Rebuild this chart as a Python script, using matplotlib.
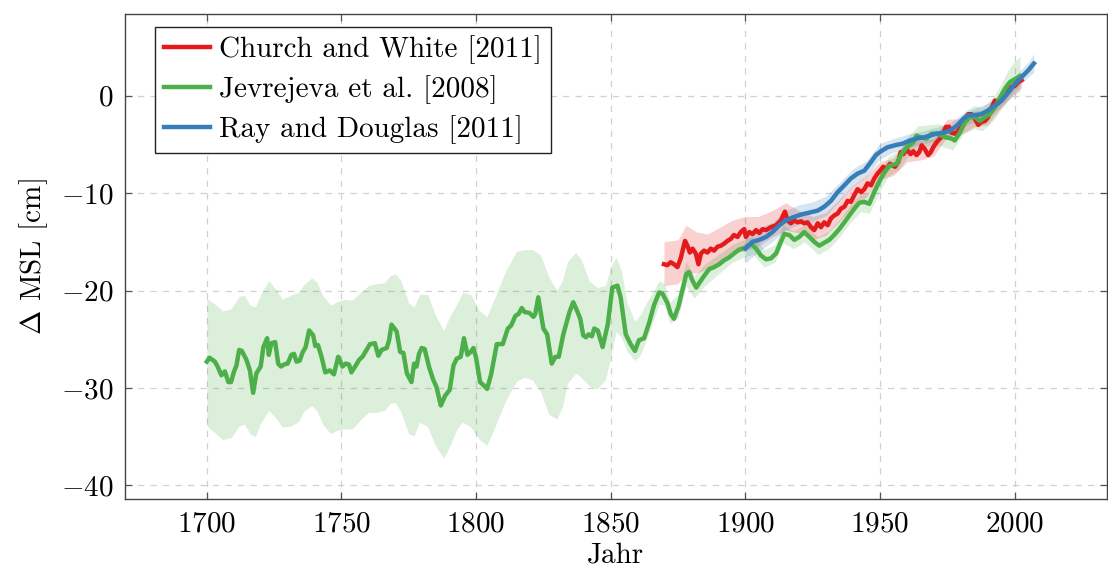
import matplotlib
matplotlib.use("Agg")
import matplotlib.pyplot as plt
import numpy as np

plt.rcParams["font.family"] = "serif"
plt.rcParams["font.serif"] = ["cmr10"]
plt.rcParams["mathtext.fontset"] = "cm"
plt.rcParams["axes.formatter.use_mathtext"] = True
plt.rcParams["axes.unicode_minus"] = True

# Jevrejeva et al. (2008)
jev_year = [1700, 1701, 1703, 1704, 1705.4, 1706.7, 1708, 1709, 1710, 1711, 1712, 1713, 1714.7, 1716,
            1717.2, 1718.4, 1720, 1721, 1722.4, 1723, 1724, 1725.4, 1726.5, 1727.5, 1728.6, 1730,
            1731.4, 1732.4, 1733.3, 1734.5, 1735.5, 1736.7, 1738, 1739.5, 1740.3, 1741.3, 1742.6, 1744,
            1745.7, 1747.2, 1748.8, 1750.4, 1751.6, 1752.8, 1753.7, 1755.3, 1756.6, 1757.8, 1759.3,
            1760.6, 1762.4, 1763.7, 1764.9, 1766.8, 1767.7, 1768.6, 1770.5, 1771.8, 1773, 1774.3, 1776,
            1777, 1777.9, 1778.8, 1779.8, 1780.9, 1782.5, 1784, 1785.3, 1786.9, 1788.5, 1790.2, 1791.6,
            1792.8, 1794.3, 1795.5, 1796.8, 1798, 1799, 1800, 1801.5, 1803.1, 1804.1, 1805.6, 1807.7,
            1809.9, 1811.8, 1813, 1814.6, 1815.8, 1817, 1818, 1819.8, 1821.3, 1822, 1823.1, 1824.1, 1825,
            1826.4, 1828.1, 1829.5, 1830.7, 1832.4, 1834.7, 1836.1, 1837.7, 1838.7, 1839.8, 1840.8,
            1841.8, 1843, 1843.9, 1845.2, 1847, 1848.9, 1850.6, 1852.5, 1853.7, 1855.6, 1857.4, 1859,
            1860.5, 1862.4, 1864.3, 1866.1, 1868, 1869.2, 1871.1, 1872.3, 1873.5, 1875.2, 1876.6, 1878.1,
            1879.1, 1880.4, 1881.8, 1883.2, 1884.7, 1886.6, 1888.4, 1890.3, 1892.1, 1894, 1895.8, 1897.7,
            1900, 1902.1, 1904, 1905.8, 1907.7, 1909.5, 1911.4, 1913.2, 1914.5, 1916.3, 1918.2, 1920,
            1921.9, 1923.8, 1925.6, 1927.5, 1929.3, 1931.2, 1933, 1934.9, 1936.8, 1938.6, 1940.5, 1942.3,
            1944.2, 1946, 1947.9, 1949.8, 1951.6, 1953.5, 1956.2, 1958, 1959.9, 1962.4, 1963.6, 1965.5,
            1967.3, 1969.2, 1971, 1972.9, 1974.8, 1976.6, 1977.8, 1979.7, 1981.6, 1983.4, 1985.3, 1987.1,
            1989, 1990.8, 1992.7, 1994.6, 1996.4, 1998.3, 2000.1, 2002]
jev_msl = [-27.3, -26.9, -27.3, -27.8, -28.7, -28.3, -29.4, -29.4, -28.4, -27.7, -26.1, -26.2, -27.1, -28.2,
           -30.5, -28.5, -27.8, -25.8, -24.9, -26.6, -25.4, -25.3, -27.5, -27.8, -27.6, -27.5,
           -26.6, -26.5, -27.3, -27.2, -26.4, -25.8, -24.1, -24.6, -25.7, -25.6, -26.8, -28.4,
           -28.2, -28.6, -26.8, -27.8, -27.5, -27.6, -28.4, -27.7, -27.1, -26.8, -26.1,
           -25.5, -25.4, -26.7, -26.1, -25.9, -25.1, -23.5, -24.2, -26.3, -26.4, -28.5, -29.4,
           -27.5, -27.8, -26.5, -25.9, -26.0, -27.8, -29.1, -29.9, -31.8, -30.8, -30.2, -27.7,
           -27.0, -26.8, -24.9, -26.6, -26.3, -25.9, -26.9, -29.4, -29.8, -30.1, -28.6, -25.5,
           -25.5, -23.9, -23.6, -22.6, -22.4, -21.8, -22.2, -22.3, -22.7, -22.4, -20.7, -22.4, -23.9,
           -24.5, -27.5, -26.8, -26.8, -24.5, -22.2, -21.2, -22.2, -22.9, -24.6, -24.8,
           -24.5, -24.7, -23.9, -24.1, -25.8, -23.5, -19.7, -19.5, -20.7, -24.5, -25.5, -26.2,
           -25.1, -24.9, -23.3, -21.5, -20.2, -20.3, -21.3, -22.4, -22.9, -21.6, -20.0, -18.3,
           -18.1, -19.0, -19.7, -19.1, -18.5, -17.8, -17.6, -17.3, -16.9, -16.6, -16.2, -15.8,
           -15.6, -15.2, -15.7, -16.4, -16.8, -16.7, -16.2, -15.0, -14.2, -14.3, -14.8, -14.5,
           -14.0, -14.5, -15.0, -15.4, -15.1, -14.8, -14.3, -13.7, -13.0, -12.3, -11.6, -11.0,
           -10.9, -11.1, -9.9, -8.8, -7.9, -7.2, -7.0, -6.0, -5.3, -4.8, -4.1, -4.3,
           -4.4, -3.9, -3.9, -4.1, -4.3, -4.4, -4.6, -3.8, -2.7, -2.2, -2.2, -2.6,
           -2.2, -1.9, -1.2, -0.2, 0.7, 1.4, 1.7, 2.0]
jev_band_year = [1700, 1703, 1706, 1709, 1712, 1714, 1716, 1718, 1720, 1723, 1726, 1728, 1731, 1734, 1736,
                 1739, 1741, 1743, 1746, 1748, 1751, 1754, 1757, 1760, 1763, 1766, 1768, 1770, 1772,
                 1775, 1777, 1779, 1782, 1785, 1788, 1790, 1793, 1795, 1798, 1801, 1804, 1807, 1811,
                 1815, 1818, 1821, 1824, 1827, 1830, 1832, 1834, 1837, 1839, 1842, 1845, 1848, 1850,
                 1852, 1854, 1856, 1859, 1861, 1863, 1866, 1868, 1870, 1872, 1875, 1878, 1881, 1885,
                 1890, 1895, 1900, 1903, 1907, 1911, 1914, 1918, 1922, 1927, 1931, 1935, 1939, 1943,
                 1946, 1950, 1953, 1957, 1961, 1964, 1968, 1972, 1977, 1981, 1985, 1988, 1992, 1995,
                 1998, 2000, 2002]
jev_lo = [-33.9, -34.6, -35.3, -35.1, -33.9, -33.7, -34.7, -35.0, -33.6, -32.3, -33.2, -34.0, -33.9, -33.5,
          -32.4, -31.8, -32.4, -33.7, -34.7, -34.4, -34.2, -34.2, -33.3, -32.5, -32.5, -32.3, -31.6,
          -31.5, -32.4, -34.7, -34.9, -33.5, -34.0, -36.0, -37.2, -36.1, -34.2, -33.5, -34.0, -35.2,
          -35.9, -34.0, -31.3, -29.3, -28.9, -29.2, -30.4, -32.7, -33.2, -32.0, -29.5, -28.5, -28.9,
          -29.8, -30.1, -29.2, -26.8, -24.2, -24.8, -26.2, -27.2, -26.6, -25.2, -23.0, -21.4, -21.5,
          -23.4, -22.8, -19.5, -20.8, -19.5, -18.3, -17.1, -16.5, -16.3, -17.6, -17.1, -15.1, -15.7,
          -15.0, -16.3, -15.7, -14.5, -13.0, -11.9, -12.1, -9.8, -8.3, -7.6, -6.0, -5.2, -5.2, -5.1,
          -5.6, -3.9, -3.4, -3.6, -2.6, -1.4, -0.4, 0.1, 0.4]
jev_hi = [-20.8, -21.4, -22.1, -21.9, -20.6, -20.5, -21.5, -21.7, -20.4, -19.0, -20.0, -20.9, -20.5, -20.2,
          -19.4, -18.7, -19.2, -20.5, -21.5, -21.2, -20.9, -21.0, -20.2, -19.5, -19.3, -19.2, -18.5,
          -18.3, -18.9, -21.3, -21.7, -20.4, -20.4, -22.6, -24.1, -22.8, -21.3, -20.2, -20.4, -22.0,
          -22.7, -20.7, -18.0, -16.0, -15.8, -15.8, -16.4, -18.6, -20.0, -19.0, -17.0, -16.1, -16.8,
          -19.0, -19.7, -19.5, -17.6, -16.6, -18.0, -21.2, -23.2, -22.5, -21.4, -20.0, -19.0, -19.3,
          -21.2, -20.4, -17.0, -18.5, -17.3, -16.3, -15.3, -14.7, -14.5, -15.8, -15.3, -13.3, -13.9,
          -13.2, -14.5, -13.9, -12.7, -11.2, -10.0, -10.1, -7.8, -6.3, -5.6, -4.0, -3.1, -3.0, -2.9,
          -3.4, -1.7, -1.0, -1.2, -0.2, 1.2, 2.8, 3.5, 4.0]

# Church and White (2011)
cw_year = [1869.8, 1871, 1872.3, 1873.5, 1874.8, 1876, 1877.6, 1878.5, 1879.4, 1880.4, 1881.6, 1882.6,
           1883.5, 1884.7, 1885.9, 1887.2, 1888.4, 1889.7, 1890.9, 1892.1, 1893.4, 1894.6, 1895.8,
           1897.1, 1898.3, 1899.6, 1900.2, 1901.5, 1902.7, 1904, 1905.2, 1906.4, 1907.7, 1909.5,
           1911.4, 1913.2, 1914.7, 1915.7, 1916.9, 1918.2, 1919.4, 1920.7, 1921.9, 1923.1, 1924.4,
           1925.6, 1926.9, 1928.1, 1929.3, 1930.6, 1931.8, 1933, 1934.3, 1935.5, 1936.8, 1938, 1939.2,
           1940.5, 1941.7, 1943, 1944.2, 1945.4, 1946.7, 1947.9, 1949.1, 1950.4, 1951.2, 1952.5,
           1953.7, 1955.6, 1956.8, 1957.7, 1958.7, 1959.9, 1961.4, 1962.4, 1963.6, 1964.6, 1965.5,
           1966.7, 1967.9, 1968.9, 1969.8, 1971, 1972.3, 1973.5, 1974.5, 1975.7, 1976.6, 1977.8,
           1979.1, 1980.3, 1981.6, 1982.8, 1984, 1985.3, 1986.5, 1987.7, 1989, 1990.2, 1991.5,
           1992.7, 1993.9, 1995.2, 1996.4, 1997.6, 1998.9, 2000.1, 2001.4, 2002.6]
cw_msl = [-17.3, -17.4, -17.1, -17.3, -17.6, -16.7, -14.9, -15.4, -16.1, -15.7, -16.2, -17.3,
          -16.2, -15.9, -16.1, -15.7, -15.9, -15.5, -15.4, -15.2, -14.9, -14.7, -14.3,
          -14.5, -14.0, -13.7, -14.5, -14.0, -14.2, -13.8, -14.1, -13.7, -13.8, -13.5,
          -13.3, -12.8, -11.9, -12.8, -13.1, -12.8, -13.0, -12.9, -13.1, -13.0, -13.5,
          -13.8, -13.1, -13.5, -13.0, -13.3, -12.6, -12.3, -12.1, -11.6, -11.4, -10.8, -10.9,
          -10.2, -9.6, -9.9, -9.6, -9.0, -9.2, -8.5, -8.0, -7.6, -7.3, -7.5,
          -7.0, -7.3, -6.8, -5.8, -6.0, -5.5, -6.0, -5.7, -6.1, -5.8, -5.1,
          -5.5, -6.1, -5.8, -5.3, -4.8, -4.4, -3.9, -3.2, -3.2, -3.8, -3.9,
          -3.6, -3.2, -2.4, -1.9, -1.9, -2.4, -3.0, -2.7, -2.6, -2.2, -1.2,
          -0.5, -0.8, -0.3, 0.0, 0.5, 0.9, 1.0, 1.4, 1.6]
cw_band_year = [1869.8, 1875, 1878, 1882, 1886, 1890, 1895, 1900, 1905, 1910, 1915, 1920, 1925, 1930,
                1935, 1940, 1945, 1950, 1955, 1960, 1965, 1970, 1975, 1980, 1985, 1990, 1995, 2000, 2002.6]
cw_lo = [-19.5, -19.3, -18.3, -18.2, -17.8, -17.2, -16.2, -15.9, -15.4, -14.5, -13.8, -14.1, -14.8, -14.3,
         -12.9, -11.4, -10.4, -8.6, -8.2, -6.8, -6.6, -6.2, -4.2, -4.0, -3.2, -3.0, -1.2, 0.2, 0.8]
cw_hi = [-15.0, -14.8, -13.3, -14.0, -14.2, -13.6, -12.8, -12.4, -12.4, -11.8, -11.0, -11.8, -12.4, -12.0,
         -10.6, -9.2, -8.2, -6.8, -6.4, -4.6, -4.6, -4.4, -2.4, -2.4, -1.6, -1.4, 0.4, 1.8, 2.4]

# Ray and Douglas (2011)
rd_year = [1900, 1902.7, 1905.2, 1907.7, 1910.1, 1912.6, 1915.1, 1917.6, 1920.7, 1923.8, 1926.9, 1929.3,
           1931.8, 1934.3, 1936.8, 1939.2, 1941.7, 1944.2, 1946.7, 1948.5, 1950.4, 1952.8, 1955.5,
           1958.7, 1961.1, 1963.6, 1966.1, 1968.6, 1971, 1973.5, 1976, 1978.5, 1980.9, 1982.8, 1985.3,
           1987.7, 1990.2, 1992.7, 1995.2, 1997.6, 2000.1, 2002.6, 2005.1, 2007.2]
rd_msl = [-15.7, -15.0, -14.8, -14.5, -14.0, -13.3, -12.8, -12.5, -12.2, -12.0, -11.8, -11.4,
          -10.8, -9.9, -9.2, -8.5, -8.0, -7.7, -6.8, -6.1, -5.7, -5.3, -5.1,
          -4.9, -4.6, -4.4, -4.3, -4.1, -3.9, -3.8, -3.6, -3.1, -2.4, -2.0, -2.0,
          -1.9, -1.5, -1.0, -0.5, 0.3, 1.2, 1.9, 2.6, 3.3]
rd_band_year = [1900, 1905, 1910, 1915, 1920, 1925, 1930, 1935, 1940, 1945, 1950, 1955, 1960, 1965, 1970,
                1975, 1980, 1985, 1990, 1995, 2000, 2005, 2007.2]
rd_lo = [-17.2, -16.0, -15.0, -13.8, -13.2, -12.9, -12.3, -10.8, -9.3, -8.3, -6.5, -5.8, -5.5, -5.0, -4.7,
         -4.4, -3.3, -2.7, -2.2, -1.2, 0.5, 1.9, 2.4]
rd_hi = [-14.3, -13.6, -13.0, -11.8, -11.2, -10.9, -10.3, -8.9, -7.5, -6.7, -4.9, -4.4, -4.0, -3.7, -3.3,
         -3.0, -2.0, -1.3, -0.8, 0.2, 2.0, 3.4, 4.3]

labels = ["Church and White [2011]", "Jevrejeva et al. [2008]", "Ray and Douglas [2011]"]
red, green, blue = "#e41a1c", "#4daf4a", "#377eb8"
fs = 21

fig = plt.figure(figsize=(11.08, 5.69), dpi=100)
ax = fig.add_axes([0.1128, 0.123, 0.8862, 0.8527])

ax.fill_between(jev_band_year, jev_lo, jev_hi, color=green, alpha=0.2, lw=0, zorder=1)
ax.fill_between(cw_band_year, cw_lo, cw_hi, color=red, alpha=0.2, lw=0, zorder=1)
ax.fill_between(rd_band_year, rd_lo, rd_hi, color=blue, alpha=0.2, lw=0, zorder=1)

ax.plot(cw_year, cw_msl, color=red, lw=3.2, label=labels[0], zorder=3)
ax.plot(jev_year, jev_msl, color=green, lw=3.2, label=labels[1], zorder=3)
ax.plot(rd_year, rd_msl, color=blue, lw=3.2, label=labels[2], zorder=4)

ax.set_xlim(1669.6, 2034.3)
ax.set_ylim(-41.4, 8.4)
ax.set_xticks(np.arange(1700, 2001, 50))
ax.set_yticks(np.arange(-40, 1, 10))
ax.grid(True, color="#d0d0d0", ls=(0, (5, 5)), lw=0.9)
ax.set_axisbelow(True)
ax.tick_params(direction="in", length=5, width=0.9, color="#555555", labelsize=fs,
               top=True, right=True, pad=8)
ax.tick_params(axis="x", pad=9)
for s in ax.spines.values():
    s.set_color("#444444")
    s.set_linewidth(1.0)

ax.set_xlabel("Jahr", fontsize=fs, labelpad=3)
ax.set_ylabel(r"$\Delta$ MSL [cm]", fontsize=fs, labelpad=8)

leg = ax.legend(loc="upper left", bbox_to_anchor=(0.0305, 0.973), borderaxespad=0, fontsize=fs,
                frameon=True, fancybox=False, handlelength=1.6, handletextpad=0.3,
                borderpad=0.3, labelspacing=0.38)
leg.get_frame().set_edgecolor("#222222")
leg.get_frame().set_linewidth(1.0)
leg.get_frame().set_alpha(1)

fig.savefig("out.png", dpi=100)
